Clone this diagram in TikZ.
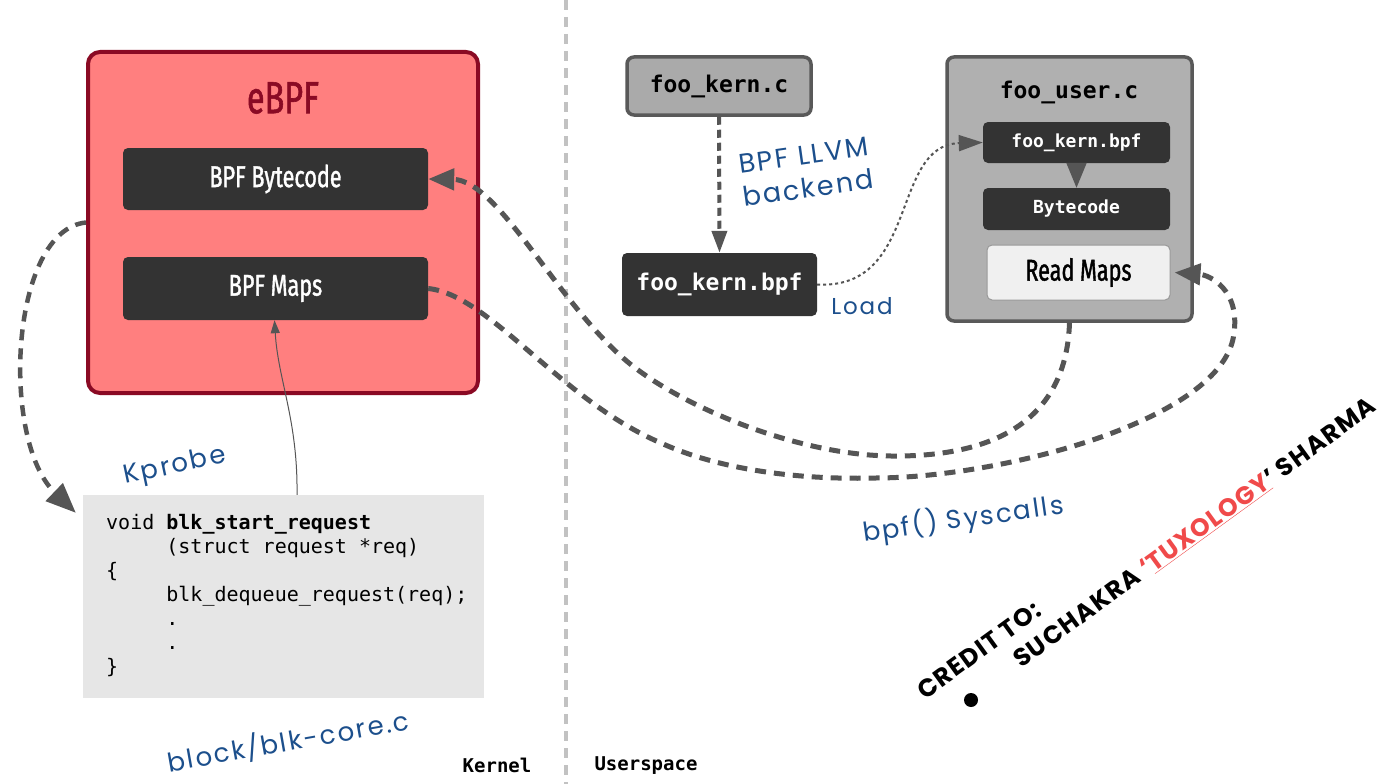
\documentclass[tikz,border=0pt]{standalone}
\usepackage{fontspec}
\usetikzlibrary{arrows.meta}
\newfontfamily\condfont[FakeStretch=0.72, FakeBold=1.3]{Fira Sans}
\newfontfamily\monofont{DejaVu Sans Mono}
\newfontfamily\handfont[LetterSpace=8]{Poppins}
\newfontfamily\credfont[LetterSpace=5]{Poppins}
\definecolor{ebpffill}{HTML}{FF7F7F}
\definecolor{ebpfedge}{HTML}{8A0A24}
\definecolor{darkbox}{HTML}{333333}
\definecolor{connc}{HTML}{555555}
\definecolor{handblue}{HTML}{1C4F8C}
\definecolor{creditred}{HTML}{F04A4A}
\definecolor{codegray}{HTML}{E6E6E6}
\definecolor{filegray}{HTML}{AAAAAA}
\definecolor{usergray}{HTML}{B0B0B0}
\definecolor{edgegray}{HTML}{595959}
\definecolor{divgray}{HTML}{C2C2C2}
\begin{document}
\begin{tikzpicture}[x=1pt,y=-1pt,
  ebpfbox/.style={fill=ebpffill, draw=ebpfedge, line width=4pt, rounded corners=12pt, minimum width=390pt, minimum height=341pt, inner sep=0pt},
  condtext/.style={font=\condfont\fontsize{30}{36}\selectfont},
  darknode/.style={fill=darkbox, rounded corners=5pt, text=white, inner sep=0pt},
  filebox/.style={draw=edgegray, line width=3.5pt, rounded corners=7pt, inner sep=0pt},
  monob/.style={font=\monofont\bfseries\fontsize{#1}{#1}\selectfont},
  hand/.style={font=\handfont\fontsize{26}{32}\selectfont, text=handblue, inner sep=0pt},
  credit/.style={font=\credfont\bfseries\fontsize{25}{30}\selectfont, inner sep=0pt},
  conn/.style={draw=connc, line width=5pt, dash pattern=on 11pt off 8pt},
  bighead/.style={-{Triangle[length=26pt,width=21pt]}},
  divider/.style={draw=divgray, line width=3.5pt, dash pattern=on 10pt off 7pt}
]
\fill[white] (0,0) rectangle (1382,784);
\useasboundingbox (0,0) rectangle (1382,784);

% divider
\coordinate (divtop) at (566,0);
\coordinate (divbot) at (566,784);
\draw[divider] (divtop) -- (divbot);

% eBPF block
\node[ebpfbox] (ebpf) at (283,222.5) {};
\node[font=\condfont\fontsize{45}{50}\selectfont, text=ebpfedge] (ebpftitle) at (283,98) {eBPF};
\node[darknode, condtext, minimum width=305pt, minimum height=62pt] (bytecode) at (275.5,179) {BPF Bytecode};
\node[darknode, condtext, minimum width=305pt, minimum height=63pt] (maps) at (275.5,288.5) {BPF Maps};

% code box
\node[fill=codegray, minimum width=401pt, minimum height=203pt, inner sep=0pt] (code) at (283.5,596.5) {};
\node[anchor=north west, align=left, inner sep=0pt, font=\monofont\fontsize{20}{24}\selectfont] (codetxt) at (106,514)
 {void \textbf{blk\_start\_request}\\
  \hphantom{voidX}(struct request *req)\\
  \{\\
  \hphantom{voidX}blk\_dequeue\_request(req);\\
  \hphantom{voidX}.\\
  \hphantom{voidX}.\\
  \}};

\node[hand, rotate=12] (kprobe) at (175,467) {Kprobe};
\node[hand, rotate=10] (blkcore) at (288,741) {block/blk-core.c};
\node[monob=19] (kernel) at (497,765) {Kernel};
\node[monob=19] (userspace) at (646,766) {Userspace};

% userspace files
\node[filebox, fill=filegray, minimum width=184pt, minimum height=58pt, monob=23] (fookc) at (719,86) {foo\_kern.c};
\node[darknode, minimum width=195pt, minimum height=63pt, monob=23] (fookbpf) at (719.5,284.5) {foo\_kern.bpf};
\node[hand, rotate=8, align=center, font=\handfont\fontsize{27}{33}\selectfont] (llvm) at (806,172) {BPF LLVM\\backend};
\node[hand, font=\handfont\fontsize{23}{30}\selectfont] (load) at (862,306) {Load};

\node[filebox, fill=usergray, minimum width=245pt, minimum height=264pt] (foouser) at (1069.5,189) {};
\node[monob=23] (futitle) at (1069,92) {foo\_user.c};
\node[darknode, minimum width=187pt, minimum height=41pt, monob=18] (inbpf) at (1076.5,142.5) {foo\_kern.bpf};
\node[darknode, minimum width=187pt, minimum height=42pt, monob=18] (inbyte) at (1076.5,209) {Bytecode};
\node[fill=black!6, draw=black!40, line width=1pt, rounded corners=5pt, minimum width=183pt, minimum height=55pt, inner sep=0pt, condtext] (readmaps) at (1078.5,272.5) {Read Maps};

\node[hand, rotate=8] (syscalls) at (963,519) {bpf() Syscalls};

% credit
\node[credit, rotate=36] (credto) at (979,650) {CREDIT TO:};
\node[credit, rotate=36] (credname) at (1195,533) {SUCHAKRA \textcolor{creditred}{‘\underline{TUXOLOGY}}’ SHARMA};
\node[circle, fill=black, minimum size=14pt, inner sep=0pt] (bullet) at (971,700) {};

% connectors
\draw[draw=connc, line width=4pt, dash pattern=on 8pt off 5pt, -{Triangle[length=22pt,width=15pt]}] (fookc.south) -- (fookbpf.north);
\draw[draw=connc, line width=2pt, dash pattern=on 3pt off 3pt, -{Triangle[length=24pt,width=16pt]}]
  (fookbpf.east) .. controls (920,290) and (890,145) .. (inbpf.west);
\draw[draw=connc, line width=2pt, -{Triangle[length=25pt,width=20pt]}] (inbpf.south) -- (inbyte.north);

\coordinate (kptip) at ([xshift=-7pt,yshift=-18pt]code.north west);
\draw[conn, line width=4.5pt, -{Triangle[length=30pt,width=24pt]}] (ebpf.west) .. controls (10,230) and (0,440) .. (kptip);

\draw[draw=connc, line width=1pt, -{Triangle[length=13pt,width=9pt]}]
  ([xshift=13.5pt]code.north) .. controls (298,420) and (278,380) .. ([xshift=-1pt]maps.south);

\draw[conn, bighead] (foouser.south) .. controls (1066,430) and (980,457) .. (891,456)
  .. controls (800,455) and (690,410) .. (634,367)
  .. controls (560,310) and (500,180) .. (bytecode.east);

\coordinate (rmtip) at ([xshift=4pt]readmaps.east);
\draw[conn, bighead] (maps.east) .. controls (490,295) and (560,400) .. (661,443)
  .. controls (720,470) and (800,480) .. (875,478)
  .. controls (1000,478) and (1225,420) .. (1234,333)
  .. controls (1240,290) and (1210,275) .. (rmtip);
\end{tikzpicture}
\end{document}
